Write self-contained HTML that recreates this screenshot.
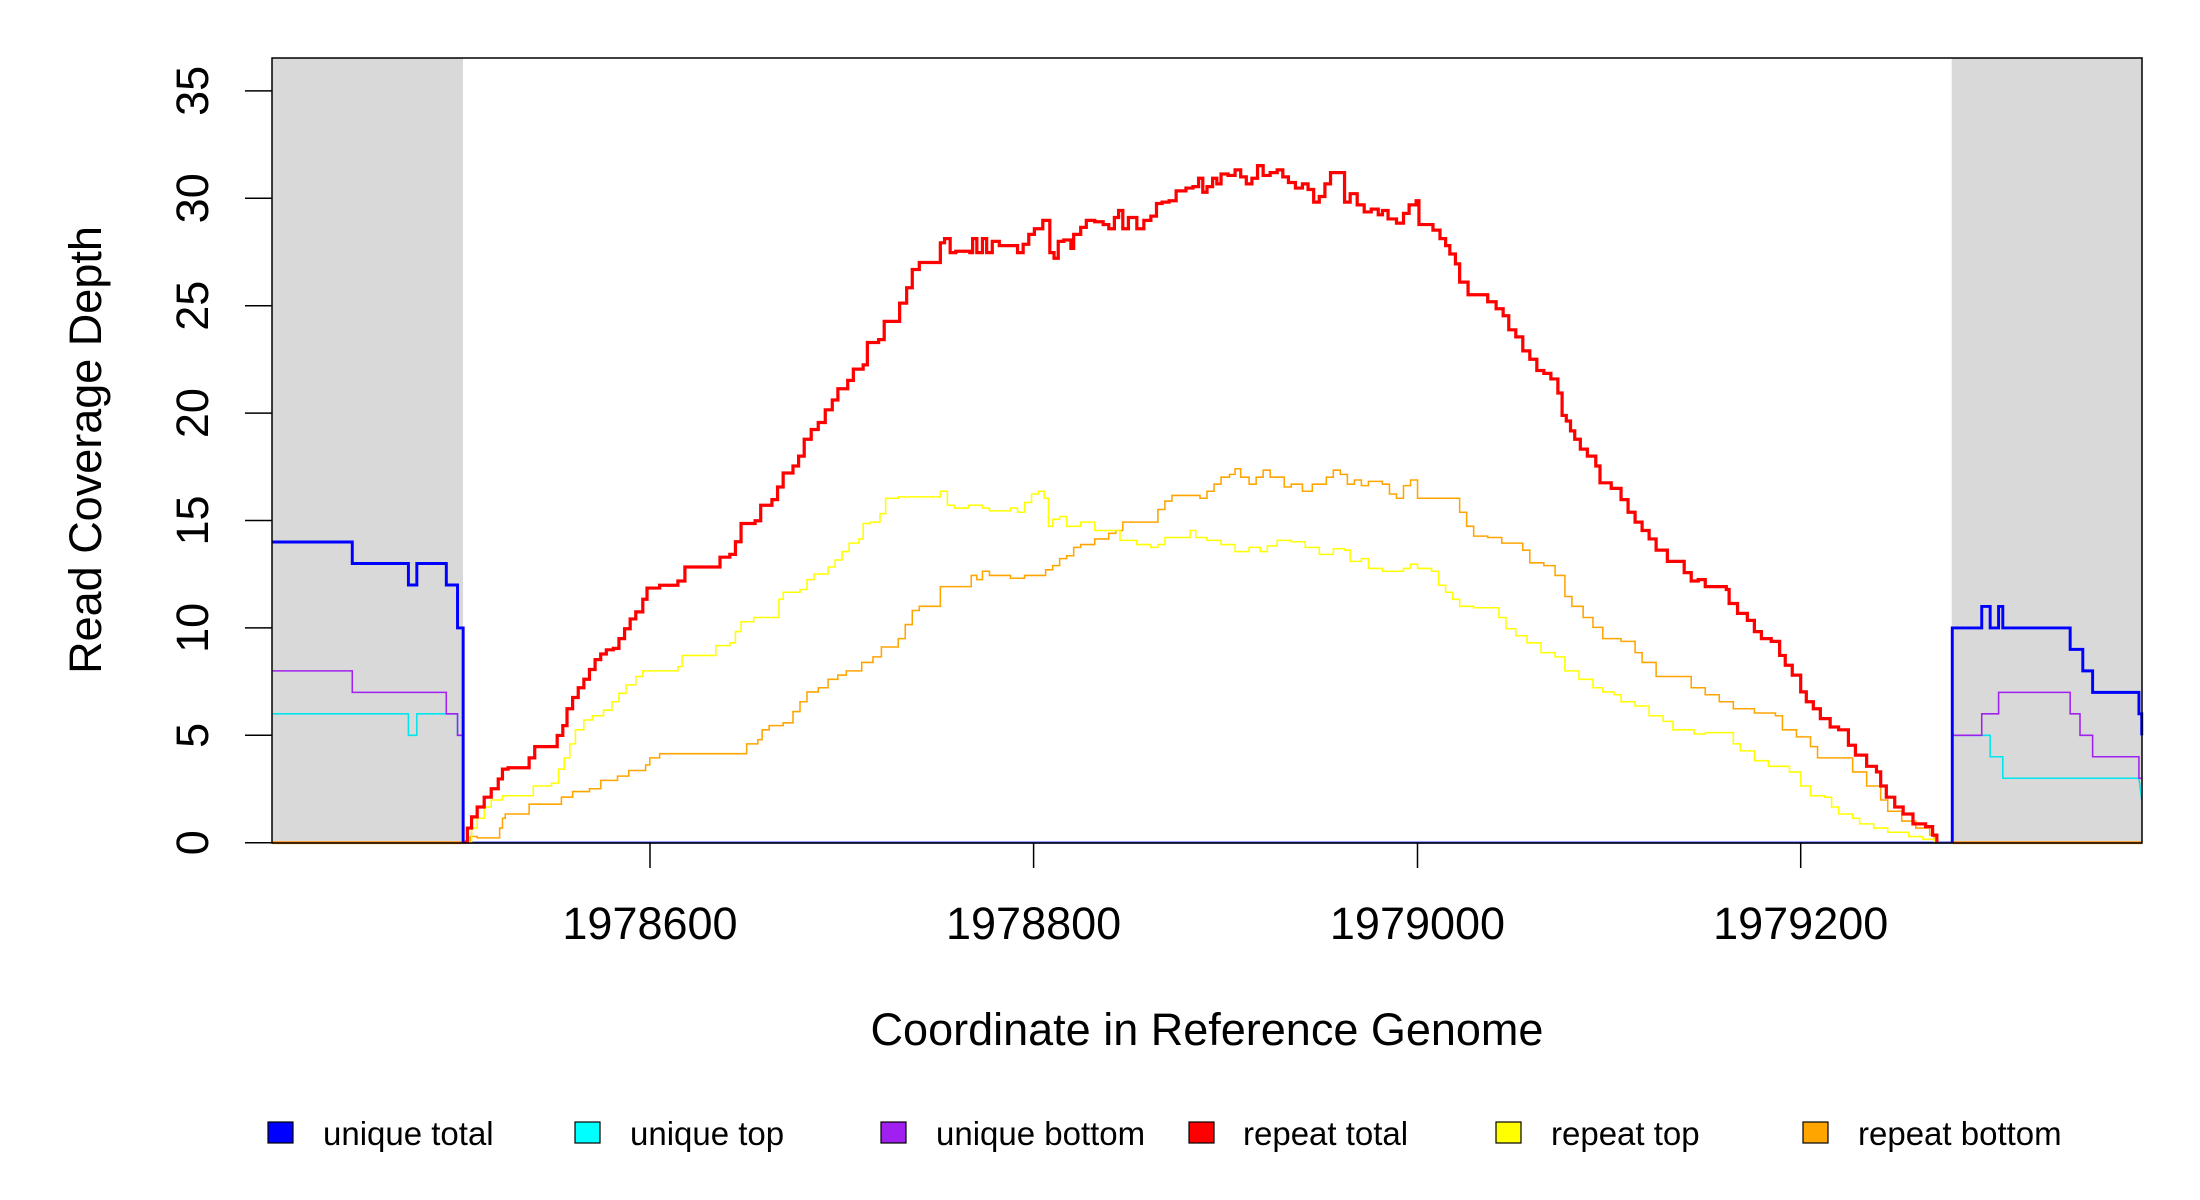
<!DOCTYPE html>
<html><head><meta charset="utf-8"><style>
html,body{margin:0;padding:0;background:#fff;}
svg{display:block;}
text{font-family:"Liberation Sans",sans-serif;fill:#000;}
</style></head><body>
<svg width="2200" height="1200" viewBox="0 0 2200 1200" xmlns="http://www.w3.org/2000/svg">
<rect width="2200" height="1200" fill="#fff"/>
<g transform="scale(1.4035)">
<rect x="193.8" y="41.3" width="136.1" height="559.3" fill="#d9d9d9"/>
<rect x="1390.6" y="41.3" width="135.6" height="559.3" fill="#d9d9d9"/>
<g fill="none" stroke-linejoin="miter">
<polyline points="193.8,600.4 331,600.4" stroke="#ff8c00" stroke-width="2"/>
<polyline points="1391,600.4 1526,600.4" stroke="#ff8c00" stroke-width="2"/>
<polyline points="331,600.4 1391,600.4" stroke="#3344ff" stroke-width="1.6"/>
<polyline stroke="#00e5ee" stroke-width="1.1" points="193.8,508.6 291,508.6 291,523.9 297,523.9 297,508.6 318,508.6 326,508.6 326,523.9 330,523.9 330,600.4"/>
<polyline stroke="#00e5ee" stroke-width="1.1" points="1391,600.4 1391,523.9 1418,523.9 1418,539.2 1427,539.2 1427,554.5 1524,554.5 1526,570"/>
<polyline stroke="#a020f0" stroke-width="1.1" points="193.8,478 251,478 251,493.3 318,493.3 318,508.6 326,508.6 326,523.9 330,523.9 330,600.4"/>
<polyline stroke="#a020f0" stroke-width="1.1" points="1391,600.4 1391,523.9 1412,523.9 1412,508.6 1424,508.6 1424,493.3 1475,493.3 1475,508.6 1482,508.6 1482,523.9 1491,523.9 1491,539.2 1524,539.2 1524,554.5 1526,554.5"/>
<polyline stroke="#0000ff" stroke-width="2.1" points="193.8,386.2 251,386.2 251,401.5 291,401.5 291,416.8 297,416.8 297,401.5 318,401.5 318,416.8 326,416.8 326,447.4 330,447.4 330,600.4"/>
<polyline stroke="#0000ff" stroke-width="2.1" points="1391,600.4 1391,447.4 1412,447.4 1412,432.1 1418,432.1 1418,447.4 1424,447.4 1424,432.1 1427,432.1 1427,447.4 1475,447.4 1475,462.7 1484,462.7 1484,478 1491,478 1491,493.3 1524,493.3 1524,508.6 1526,508.6 1526,524"/>
<polyline class="st" stroke="#ffa500" stroke-width="1.1" points="331,600 335,596 340,597 352,597 356,590 358,583 360,580 375,580 377,573 395,573 400,568 408,564 420,562 428,556 440,553 448,549 460,545 463,540 470,537 528,537 532,530 540,527 543,520 548,517 558,515 565,507 570,500 575,493 583,490 590,484 597,481 603,478 614,472 622,468 628,461 640,455 645,445 650,435 655,432 668,432 670,418 690,418 692,410 696,413 700,407 705,410 715,410 720,412 730,410 742,410 745,406 750,403 755,398 760,396 765,390 770,388 780,384 790,380 795,378 800,372 820,372 825,363 830,357 835,353 850,353 855,355 860,350 865,345 870,340 876,338 880,334 884,340 890,345 895,340 900,335 905,340 910,340 915,347 920,345 924,345 928,350 935,345 940,345 945,340 950,335 955,338 960,345 965,342 970,346 975,343 985,345 990,352 995,355 1000,346 1005,342 1010,355 1035,355 1040,365 1045,375 1050,382 1060,383 1070,387 1085,392 1090,401 1100,403 1108,410 1115,425 1120,432 1128,440 1135,447 1142,455 1155,457 1165,465 1170,472 1180,482 1200,482 1205,490 1215,495 1225,500 1235,505 1250,508 1265,510 1270,520 1280,525 1290,532 1295,540 1315,540 1320,550 1330,560 1340,570 1345,578 1355,585 1365,590 1375,595 1378,600"/>
<polyline class="st" stroke="#ffff00" stroke-width="1.1" points="331,600 336,590 340,583 345,575 350,570 358,567 375,567 380,560 393,558 398,548 402,540 406,530 410,520 416,513 422,510 430,506 436,500 441,494 446,488 453,482 458,478 470,478 483,475 486,467 505,467 510,460 520,458 524,450 528,443 537,440 550,440 555,427 558,422 570,420 575,413 580,409 590,404 595,399 600,393 605,387 612,384 615,373 620,372 627,366 631,355 640,354 668,354 670,350 675,360 680,362 690,360 700,362 705,364 720,362 725,365 730,358 735,352 740,350 744,355 747,375 750,370 755,368 760,375 770,372 780,378 795,378 798,385 810,388 820,390 825,388 830,383 840,383 848,378 852,383 860,385 870,388 880,393 890,390 898,393 903,389 910,385 920,386 930,390 940,395 950,391 958,392 962,400 970,398 975,405 985,407 1000,405 1005,402 1010,405 1020,407 1025,417 1030,422 1035,427 1040,432 1050,433 1062,433 1068,440 1073,448 1080,453 1088,458 1098,465 1108,468 1115,478 1125,484 1135,490 1142,493 1150,495 1155,500 1165,503 1175,510 1185,514 1192,520 1200,520 1207,523 1215,522 1230,522 1235,530 1240,535 1250,542 1260,546 1275,550 1283,560 1290,567 1300,568 1305,575 1310,580 1320,583 1325,587 1335,590 1345,593 1360,596 1370,598 1378,600"/>
<polyline class="st" stroke="#ff0000" stroke-width="2.3" points="331,600 333,590 336,582 340,575 345,568 350,562 355,555 358,548 362,547 375,547 377,540 381,532 393,532 397,524 401,517 404,505 408,497 412,490 416,484 420,477 424,470 428,466 432,463 437,462 441,455 445,448 449,441 453,436 458,427 461,419 470,417 483,414 488,404 510,404 513,397 520,395 524,386 528,373 538,371 542,360 550,356 554,347 558,337 565,332 569,325 573,313 578,306 583,301 588,292 593,285 597,277 604,271 608,263 615,260 618,244 626,242 630,229 641,216 646,205 650,192 655,187 668,187 670,173 673,170 677,180 681,179 691,180 693,170 696,180 700,170 703,180 707,172 712,175 717,175 725,180 729,174 733,167 737,163 743,157 748,180 751,184 754,172 758,171 763,177 765,167 770,162 774,157 780,158 786,160 790,163 794,155 797,150 800,163 804,155 810,163 815,157 820,154 824,145 828,144 833,143 838,136 845,134 850,133 854,127 857,137 860,133 864,127 867,131 870,124 875,125 880,121 884,126 888,131 892,127 896,118 900,125 905,123 910,121 914,126 918,130 923,134 928,131 932,135 936,144 940,140 944,131 948,123 955,123 958,144 962,138 967,146 972,151 977,149 982,153 985,150 989,156 995,159 1000,152 1004,146 1009,143 1011,160 1018,160 1021,164 1026,170 1030,175 1033,181 1037,188 1040,201 1046,210 1055,210 1060,215 1066,220 1071,225 1075,235 1080,240 1085,250 1090,256 1095,264 1100,266 1105,270 1110,280 1113,296 1116,300 1119,307 1122,313 1126,320 1131,325 1137,332 1140,344 1148,348 1155,356 1160,365 1165,372 1170,378 1175,384 1180,392 1188,400 1200,408 1205,414 1210,413 1215,418 1230,420 1232,430 1238,437 1245,442 1250,450 1255,455 1262,457 1268,467 1272,474 1277,481 1283,493 1287,500 1292,505 1297,512 1304,518 1310,520 1317,531 1322,538 1330,546 1337,550 1340,560 1344,568 1350,575 1356,580 1363,587 1372,589 1377,595 1380,600"/>
</g>
</g>
<rect x="272" y="58" width="1870" height="785" fill="none" stroke="#000" stroke-width="1.5"/>
<g stroke="#000" stroke-width="1.5">
<line x1="245" y1="842.7" x2="272" y2="842.7"/>
<line x1="245" y1="735.3" x2="272" y2="735.3"/>
<line x1="245" y1="627.9" x2="272" y2="627.9"/>
<line x1="245" y1="520.5" x2="272" y2="520.5"/>
<line x1="245" y1="413.1" x2="272" y2="413.1"/>
<line x1="245" y1="305.7" x2="272" y2="305.7"/>
<line x1="245" y1="198.3" x2="272" y2="198.3"/>
<line x1="245" y1="90.9" x2="272" y2="90.9"/>
<line x1="650" y1="843" x2="650" y2="868"/>
<line x1="1033.6" y1="843" x2="1033.6" y2="868"/>
<line x1="1417.5" y1="843" x2="1417.5" y2="868"/>
<line x1="1800.7" y1="843" x2="1800.7" y2="868"/>
</g>
<g font-size="45" text-anchor="middle">
<text transform="translate(208,842.7) rotate(-90)">0</text>
<text transform="translate(208,735.3) rotate(-90)">5</text>
<text transform="translate(208,627.9) rotate(-90)">10</text>
<text transform="translate(208,520.5) rotate(-90)">15</text>
<text transform="translate(208,413.1) rotate(-90)">20</text>
<text transform="translate(208,305.7) rotate(-90)">25</text>
<text transform="translate(208,198.3) rotate(-90)">30</text>
<text transform="translate(208,90.9) rotate(-90)">35</text>
<text x="650" y="939">1978600</text>
<text x="1033.6" y="939">1978800</text>
<text x="1417.5" y="939">1979000</text>
<text x="1800.7" y="939">1979200</text>
<text x="1207" y="1045">Coordinate in Reference Genome</text>
<text transform="translate(101,450) rotate(-90)">Read Coverage Depth</text>
</g>
<g stroke="#000" stroke-width="1.2">
<rect x="268" y="1122" width="25" height="21" fill="#0000ff"/>
<rect x="575" y="1122" width="25" height="21" fill="#00ffff"/>
<rect x="881" y="1122" width="25" height="21" fill="#a020f0"/>
<rect x="1189" y="1122" width="25" height="21" fill="#ff0000"/>
<rect x="1496" y="1122" width="25" height="21" fill="#ffff00"/>
<rect x="1803" y="1122" width="25" height="21" fill="#ffa500"/>
</g>
<g font-size="33">
<text x="323" y="1145">unique total</text>
<text x="630" y="1145">unique top</text>
<text x="936" y="1145">unique bottom</text>
<text x="1243" y="1145">repeat total</text>
<text x="1551" y="1145">repeat top</text>
<text x="1858" y="1145">repeat bottom</text>
</g>
</svg>
<script>
document.querySelectorAll('polyline.st').forEach(function(p){
  var pts=p.getAttribute('points').trim().split(/\s+/).map(function(s){return s.split(',').map(Number);});
  var out=[pts[0]];
  for(var i=1;i<pts.length;i++){out.push([pts[i][0],pts[i-1][1]]);out.push(pts[i]);}
  p.setAttribute('points',out.map(function(a){return a[0]+','+a[1];}).join(' '));
});
</script>
</body></html>
